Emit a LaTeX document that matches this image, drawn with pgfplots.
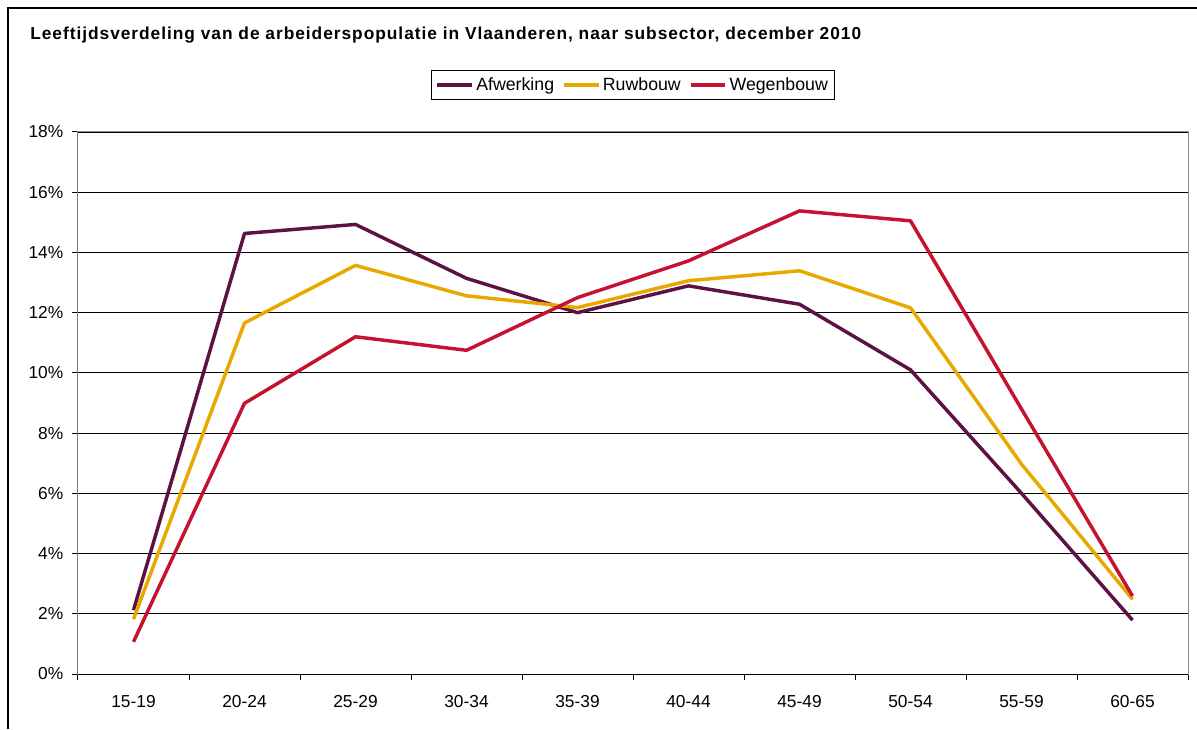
\documentclass[border=0pt]{standalone}
\usepackage{pgfplots}
\pgfplotsset{compat=1.18}
\usepackage{fontspec}
\setmainfont{Liberation Sans}
\definecolor{cAfw}{RGB}{94,18,68}
\definecolor{cRuw}{RGB}{232,168,0}
\definecolor{cWeg}{RGB}{196,18,48}
\begin{document}
\begin{tikzpicture}
\path[use as bounding box] (0,0) rectangle (897.75pt,546.75pt);
\draw[black, line width=0.9pt] (6pt,0pt) -- (6pt,540.75pt) -- (897.75pt,540.75pt);
\node[anchor=west, font=\fontsize{13}{15}\selectfont\bfseries\addfontfeature{LetterSpace=5.6}, inner sep=0pt] at (22.5pt,520.5pt) {Leeftijdsverdeling van de arbeiderspopulatie in Vlaanderen, naar subsector, december 2010};
\begin{axis}[
  at={(58.5pt,41.25pt)}, anchor=south west,
  scale only axis, width=832.5pt, height=406.5pt,
  xmin=-0.5, xmax=9.5, ymin=0, ymax=18,
  xtick={0,...,9},
  xticklabels={15-19,20-24,25-29,30-34,35-39,40-44,45-49,50-54,55-59,60-65},
  minor xtick={-0.5,0.5,...,9.5},
  major x tick style={draw=none},
  ytick={0,2,...,18},
  yticklabels={0\%,2\%,4\%,6\%,8\%,10\%,12\%,14\%,16\%,18\%},
  tick align=outside,
  minor tick length=4.5pt, major tick length=4.5pt,
  xtick pos=bottom, ytick pos=left,
  ymajorgrids, major grid style={black, line width=0.6pt},
  axis line style={black!45, line width=0.75pt},
  tick style={black, line width=0.75pt},
  ticklabel style={font=\fontsize{13}{15}\selectfont},
  xticklabel style={yshift=-8pt},
  yticklabel style={xshift=-3pt},
  legend columns=3,
  legend style={at={(0.5,1.087)}, anchor=center, draw=black, line width=0.6pt,
    font=\fontsize{13.3}{15}\selectfont, inner xsep=3pt, inner ysep=3.5pt,
    /tikz/every even column/.append style={column sep=4pt}},
  legend image code/.code={\draw[#1] (0pt,0pt) -- (26pt,0pt);},
  every axis plot/.append style={line width=2.6pt, line join=round},
]
\addplot[cAfw] coordinates {(0,2.12) (1,14.63) (2,14.93) (3,13.14) (4,12.0) (5,12.89) (6,12.28) (7,10.1) (8,6.0) (9,1.79)};
\addlegendentry{Afwerking}
\addplot[cRuw] coordinates {(0,1.82) (1,11.66) (2,13.57) (3,12.56) (4,12.17) (5,13.06) (6,13.39) (7,12.16) (8,6.97) (9,2.48)};
\addlegendentry{Ruwbouw}
\addplot[cWeg] coordinates {(0,1.07) (1,8.99) (2,11.2) (3,10.75) (4,12.5) (5,13.72) (6,15.38) (7,15.05) (8,8.8) (9,2.59)};
\addlegendentry{Wegenbouw}
\draw[black, line width=0.75pt] (rel axis cs:0,1) -- (rel axis cs:0,0) -- (rel axis cs:1,0);
\end{axis}
\end{tikzpicture}
\end{document}
